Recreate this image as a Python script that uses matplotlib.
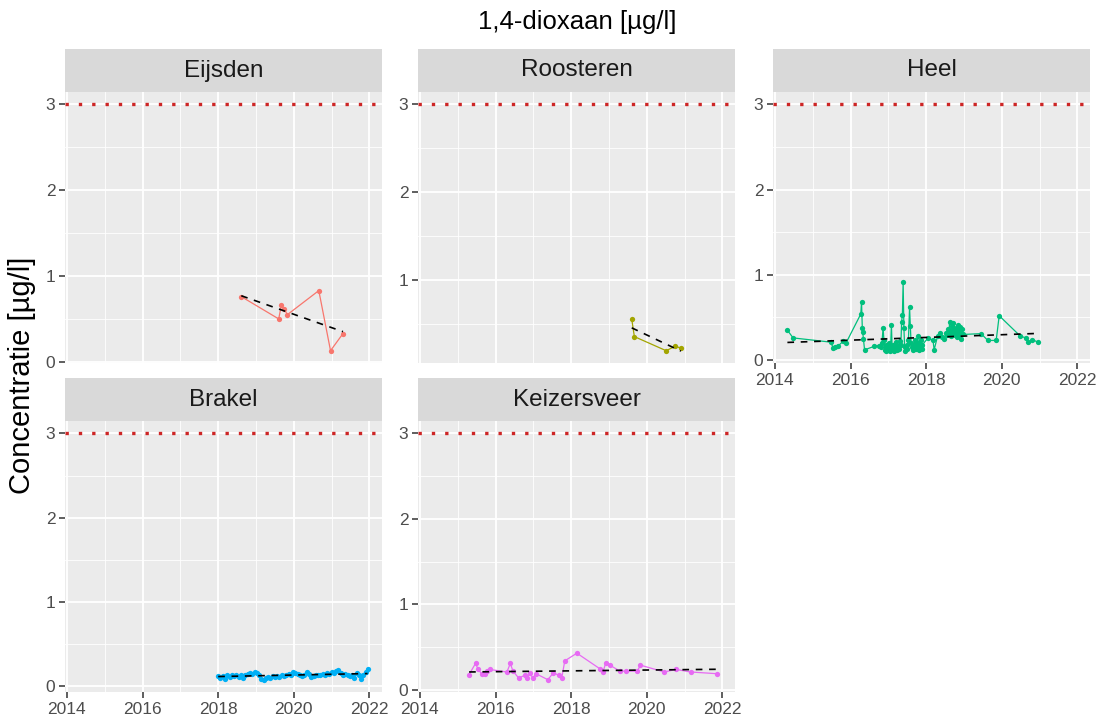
import matplotlib
matplotlib.use("Agg")
from matplotlib import pyplot as plt
import numpy as np

plt.rcParams['font.family'] = ['Liberation Sans', 'DejaVu Sans']

# ---- data ----
stations = ['Eijsden', 'Roosteren', 'Heel', 'Brakel', 'Keizersveer']
colors = ['#F8766D', '#A3A500', '#00BF7D', '#00B0F6', '#E76BF3']
norm = 3.0

eijsden_t = [2018.61, 2019.60, 2019.67, 2019.75, 2019.83, 2020.66, 2020.97, 2021.30]
eijsden_v = [0.76, 0.50, 0.66, 0.61, 0.55, 0.83, 0.13, 0.33]

roosteren_t = [2019.60, 2019.67, 2020.51, 2020.75, 2020.90]
roosteren_v = [0.56, 0.36, 0.20, 0.25, 0.23]

heel_t = [2014.33, 2014.48, 2015.48, 2015.54, 2015.60, 2015.66, 2015.80, 2015.88,
          2016.27, 2016.29, 2016.31, 2016.32, 2016.34, 2016.37, 2016.62, 2016.75,
          2016.80, 2016.83, 2016.86, 2016.88, 2016.90, 2016.93, 2016.95, 2016.97,
          2017.00, 2017.02, 2017.04, 2017.06, 2017.08, 2017.10, 2017.12, 2017.14,
          2017.17, 2017.19, 2017.22, 2017.25, 2017.27, 2017.30, 2017.33, 2017.35,
          2017.37, 2017.39, 2017.41, 2017.43, 2017.45, 2017.48, 2017.50, 2017.53,
          2017.56, 2017.58, 2017.60, 2017.63, 2017.66, 2017.68, 2017.70, 2017.72,
          2017.74, 2017.76, 2017.78, 2017.80, 2017.82, 2017.84, 2017.86, 2017.88,
          2017.90, 2018.05, 2018.18, 2018.21, 2018.30, 2018.36, 2018.42, 2018.48,
          2018.52, 2018.55, 2018.58, 2018.60, 2018.62, 2018.64, 2018.66, 2018.68,
          2018.70, 2018.72, 2018.74, 2018.76, 2018.78, 2018.80, 2018.82, 2018.84,
          2018.86, 2018.88, 2018.90, 2018.92, 2018.94, 2018.96, 2019.45, 2019.63,
          2019.85, 2019.93, 2020.49, 2020.64, 2020.70, 2020.81, 2020.95]
heel_v = [0.35, 0.26, 0.21, 0.14, 0.15, 0.16, 0.22, 0.20,
          0.54, 0.68, 0.38, 0.33, 0.25, 0.12, 0.16, 0.17,
          0.15, 0.20, 0.38, 0.24, 0.12, 0.18, 0.11, 0.15,
          0.12, 0.20, 0.11, 0.16, 0.41, 0.13, 0.18, 0.11,
          0.15, 0.21, 0.12, 0.17, 0.13, 0.22, 0.18, 0.45,
          0.53, 0.91, 0.38, 0.15, 0.11, 0.18, 0.13, 0.24,
          0.62, 0.40, 0.20, 0.15, 0.12, 0.18, 0.24, 0.13,
          0.20, 0.16, 0.28, 0.12, 0.20, 0.15, 0.23, 0.13,
          0.18, 0.26, 0.23, 0.12, 0.28, 0.32, 0.27, 0.25,
          0.32, 0.29, 0.37, 0.31, 0.45, 0.33, 0.28, 0.40,
          0.31, 0.43, 0.35, 0.29, 0.38, 0.33, 0.27, 0.41,
          0.35, 0.30, 0.39, 0.25, 0.36, 0.30, 0.31, 0.23,
          0.23, 0.52, 0.28, 0.26, 0.21, 0.24, 0.21]

brakel_t = [2018.00, 2018.06, 2018.12, 2018.18, 2018.24, 2018.30, 2018.36, 2018.42,
            2018.48, 2018.54, 2018.60, 2018.66, 2018.72, 2018.78, 2018.84, 2018.90,
            2018.96, 2019.02, 2019.08, 2019.14, 2019.20, 2019.26, 2019.32, 2019.38,
            2019.44, 2019.50, 2019.56, 2019.62, 2019.68, 2019.74, 2019.80, 2019.86,
            2019.92, 2019.98, 2020.04, 2020.10, 2020.16, 2020.22, 2020.28, 2020.34,
            2020.40, 2020.46, 2020.52, 2020.58, 2020.64, 2020.70, 2020.76, 2020.82,
            2020.88, 2020.94, 2021.00, 2021.06, 2021.12, 2021.18, 2021.24, 2021.30,
            2021.36, 2021.42, 2021.48, 2021.54, 2021.60, 2021.66, 2021.72, 2021.78,
            2021.84, 2021.90, 2021.95]
brakel_v = [0.12, 0.10, 0.12, 0.09, 0.13, 0.11, 0.13, 0.12,
            0.14, 0.11, 0.13, 0.10, 0.14, 0.15, 0.16, 0.15,
            0.17, 0.16, 0.13, 0.09, 0.08, 0.10, 0.11, 0.10,
            0.12, 0.11, 0.12, 0.11, 0.13, 0.12, 0.14, 0.15,
            0.14, 0.17, 0.16, 0.15, 0.13, 0.12, 0.14, 0.17,
            0.15, 0.11, 0.12, 0.13, 0.14, 0.13, 0.15, 0.14,
            0.16, 0.15, 0.17, 0.16, 0.18, 0.19, 0.16, 0.14,
            0.15, 0.14, 0.12, 0.13, 0.10, 0.16, 0.14, 0.09,
            0.13, 0.17, 0.21]

keizersveer_t = [2015.30, 2015.47, 2015.54, 2015.63, 2015.71, 2015.77, 2015.84, 2016.30,
                 2016.39, 2016.46, 2016.61, 2016.77, 2016.84, 2016.91, 2016.98, 2017.07,
                 2017.38, 2017.53, 2017.68, 2017.75, 2017.83, 2018.15, 2018.75, 2018.84,
                 2018.91, 2019.02, 2019.29, 2019.44, 2019.75, 2019.83, 2020.46, 2020.77,
                 2021.16, 2021.85]
keizersveer_v = [0.18, 0.31, 0.24, 0.19, 0.19, 0.22, 0.24, 0.21,
                 0.31, 0.22, 0.14, 0.17, 0.14, 0.20, 0.14, 0.19,
                 0.12, 0.20, 0.17, 0.14, 0.34, 0.43, 0.25, 0.21,
                 0.31, 0.29, 0.22, 0.22, 0.22, 0.29, 0.21, 0.24,
                 0.21, 0.19]

series = {
    'Eijsden': (eijsden_t, eijsden_v),
    'Roosteren': (roosteren_t, roosteren_v),
    'Heel': (heel_t, heel_v),
    'Brakel': (brakel_t, brakel_v),
    'Keizersveer': (keizersveer_t, keizersveer_v),
}

# ---- layout (pixels) ----
W, H = 1109, 722
col_left = [65, 418, 773]
panel_w = 317
row_top = [92, 421]
panel_h = 271
strip_h = 43
grid_pos = {'Eijsden': (0, 0), 'Roosteren': (0, 1), 'Heel': (0, 2),
            'Brakel': (1, 0), 'Keizersveer': (1, 1)}
bottom_of_col = {'Brakel', 'Keizersveer', 'Heel'}

all_t = np.concatenate([series[s][0] for s in stations])
xr = all_t.max() - all_t.min()
xlim = (all_t.min() - 0.05 * xr, all_t.max() + 0.05 * xr)

fig = plt.figure(figsize=(W / 100, H / 100), dpi=100)

for name, col in zip(stations, colors):
    r, c = grid_pos[name]
    left = col_left[c] / W
    bottom = (H - row_top[r] - panel_h) / H
    ax = fig.add_axes([left, bottom, panel_w / W, panel_h / H])
    sax = fig.add_axes([left, (H - row_top[r]) / H, panel_w / W, strip_h / H])
    sax.set_facecolor('#d9d9d9')
    sax.set_xticks([]); sax.set_yticks([])
    for sp in sax.spines.values():
        sp.set_visible(False)
    sax.text(0.5, 0.5, name, ha='center', va='center', fontsize=17.5,
             color='#1a1a1a', transform=sax.transAxes)

    t, v = series[name]
    t = np.array(t); v = np.array(v)
    ax.set_facecolor('#ebebeb')
    for sp in ax.spines.values():
        sp.set_visible(False)

    lo = min(v.min(), norm); hi = max(v.max(), norm)
    yr = hi - lo
    ax.set_ylim(lo - 0.05 * yr, hi + 0.05 * yr)
    ax.set_xlim(*xlim)

    ax.set_xticks([2014, 2016, 2018, 2020, 2022])
    ax.set_xticks([2015, 2017, 2019, 2021], minor=True)
    yt = [y for y in [0, 1, 2, 3] if ax.get_ylim()[0] <= y <= ax.get_ylim()[1]]
    ax.set_yticks(yt)
    ax.set_yticks([0.5, 1.5, 2.5], minor=True)
    ax.grid(which='major', color='white', linewidth=1.3)
    ax.grid(which='minor', color='white', linewidth=0.6)
    ax.set_axisbelow(True)
    ax.tick_params(which='minor', length=0)
    ax.tick_params(which='major', length=4.5, width=1.1, color='#333333',
                   labelcolor='#4d4d4d', labelsize=12.5, pad=2.5)
    if name not in bottom_of_col:
        ax.tick_params(axis='x', which='major', labelbottom=False, length=0)

    ax.axhline(norm, color='#cd2626', linewidth=2.4, linestyle=(0, (1, 3)), zorder=2)
    ax.plot(t, v, color=col, linewidth=0.9, zorder=3)
    ax.plot(t, v, 'o', color=col, markersize=3.8, markeredgewidth=0, zorder=4)
    k, b = np.polyfit(t, v, 1)
    tt = np.array([t.min(), t.max()])
    ax.plot(tt, k * tt + b, color='black', linewidth=1.2,
            linestyle=(0, (4, 4)), zorder=5)

fig.text(0.5 * (col_left[0] + col_left[2] + panel_w) / W, 1 - 22 / H,
         '1,4-dioxaan [µg/l]', ha='center', va='center', fontsize=18.5, color='black')
fig.text(22 / W, 1 - 375 / H, 'Concentratie [µg/l]', ha='center', va='center',
         rotation=90, fontsize=21, color='black')

plt.savefig('out.png', dpi=100)
